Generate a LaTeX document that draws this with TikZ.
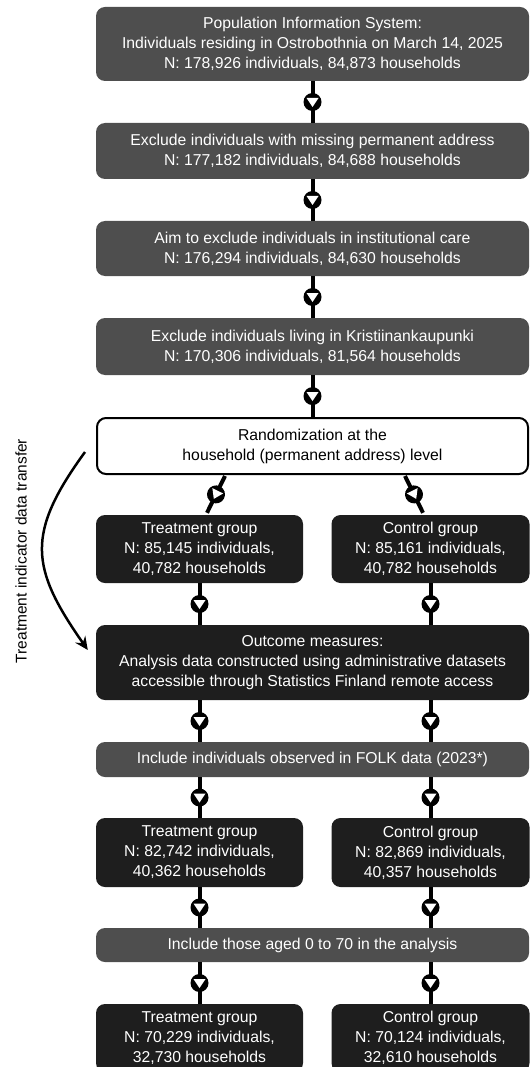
\documentclass[tikz,border=0pt]{standalone}
\usepackage{fontspec}
\setmainfont{Liberation Sans}
\usepackage{xcolor}
\usetikzlibrary{arrows.meta,decorations.markings}
\definecolor{boxgrey}{RGB}{78,78,78}
\definecolor{boxblack}{RGB}{30,30,30}

\begin{document}
\begin{tikzpicture}[x=1pt,y=1pt,font=\fontsize{15.75}{20}\selectfont,
  greybox/.style={fill=boxgrey,text=white,rounded corners=9,minimum width=433,align=center,inner sep=0pt},
  blackbox/.style={fill=boxblack,text=white,rounded corners=9,minimum width=433,align=center,inner sep=0pt},
  whitebox/.style={draw=black,line width=2,fill=white,rounded corners=9,minimum width=431,align=center,inner sep=0pt},
  link/.style={line width=4,postaction={decorate},decoration={markings,
    mark=at position .5 with {\fill (0,0) circle (9);
      \fill[white] (-4,6) -- (5,0) -- (-4,-6) -- cycle;}}}]
  \useasboundingbox (0,0) rectangle (530,-1067);
  \clip (0,0) rectangle (530,-1067);

  % selection steps
  \node[greybox,minimum height=74] (pop) at (312.5,-44)
    {Population Information System:\\Individuals residing in Ostrobothnia on March 14, 2025\\N: 178,926 individuals, 84,873 households};
  \node[greybox,minimum height=56] (miss) at (312.5,-151)
    {Exclude individuals with missing permanent address\\N: 177,182 individuals, 84,688 households};
  \node[greybox,minimum height=55] (inst) at (312.5,-248.5)
    {Aim to exclude individuals in institutional care\\N: 176,294 individuals, 84,630 households};
  \node[greybox,minimum height=57] (krist) at (312.5,-346.5)
    {Exclude individuals living in Kristiinankaupunki\\N: 170,306 individuals, 81,564 households};
  \node[whitebox,minimum height=56] (rand) at (312.5,-446)
    {Randomization at the\\household (permanent address) level};

  % groups
  \node[blackbox,minimum width=207,minimum height=68] (treat1) at (199.5,-549)
    {Treatment group\\N: 85,145 individuals,\\40,782 households};
  \node[blackbox,minimum width=198,minimum height=68] (ctrl1) at (430.5,-549)
    {Control group\\N: 85,161 individuals,\\40,782 households};
  \node[blackbox,minimum height=75] (outc) at (312.5,-662.5)
    {Outcome measures:\\Analysis data constructed using administrative datasets\\accessible through Statistics Finland remote access};
  \node[greybox,minimum height=35] (folk) at (312.5,-759.5)
    {Include individuals observed in FOLK data (2023*)};
  \node[blackbox,minimum width=207,minimum height=69] (treat2) at (199.5,-852.5)
    {Treatment group\\N: 82,742 individuals,\\40,362 households};
  \node[blackbox,minimum width=198,minimum height=69] (ctrl2) at (430.5,-852.5)
    {Control group\\N: 82,869 individuals,\\40,357 households};
  \node[greybox,minimum height=34] (aged) at (312.5,-945)
    {Include those aged 0 to 70 in the analysis};
  \node[blackbox,minimum width=207,minimum height=68] (treat3) at (199.5,-1038)
    {Treatment group\\N: 70,229 individuals,\\32,730 households};
  \node[blackbox,minimum width=198,minimum height=68] (ctrl3) at (430.5,-1038)
    {Control group\\N: 70,124 individuals,\\32,610 households};

  % connectors
  \foreach \a/\b in {pop/miss,miss/inst,inst/krist,krist/rand}
    \draw[link] (\a) -- (\b);
  \path (rand.south) ++(-87.5,-1) coordinate (ltop);
  \path (treat1.north) ++(7.5,2) coordinate (lbot);
  \path (rand.south) ++(92.5,-1) coordinate (rtop);
  \path (ctrl1.north) ++(-7.5,2) coordinate (rbot);
  \draw[link] (ltop) -- (lbot);
  \draw[link] (rtop) -- (rbot);
  \foreach \c in {treat1,ctrl1}
    \foreach \a/\b in {treat1/outc,outc/folk,folk/treat2,treat2/aged,aged/treat3}
      \draw[link] (\a.south -| \c) -- (\b.north -| \c);

  % data transfer
  \path (rand.west) ++(-11,-6) coordinate (cstart);
  \path (outc.west) ++(-8,12.5) coordinate (cend);
  \draw[line width=2.5,-{Stealth[length=13pt,width=12pt]}]
    (cstart) to[out=234,in=125,looseness=1.3] (cend);
  \node[rotate=90,font=\fontsize{15.5}{18}\selectfont] (sidelab) at (21,-551)
    {Treatment indicator data transfer};
\end{tikzpicture}
\end{document}
